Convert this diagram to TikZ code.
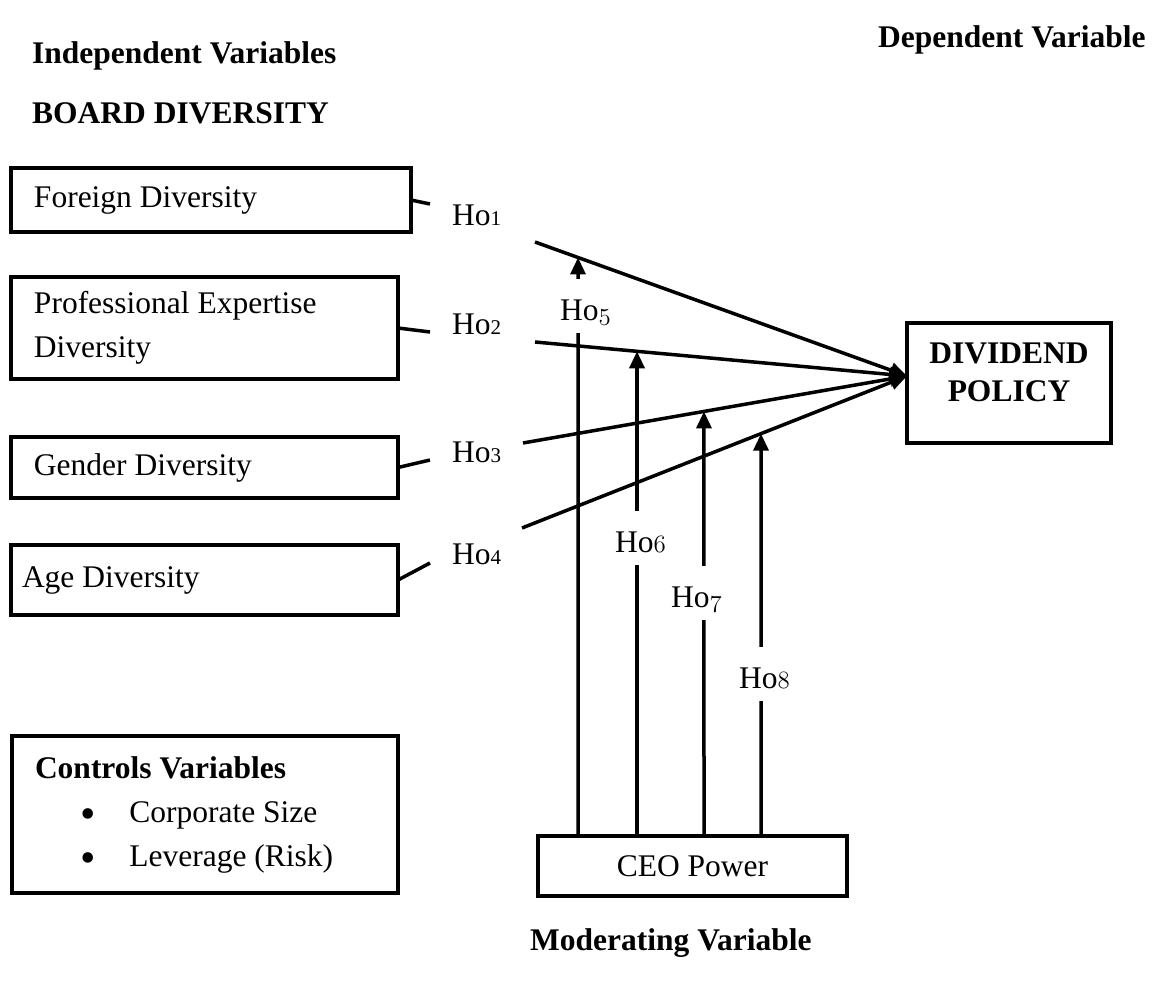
\documentclass[tikz,border=0pt]{standalone}
\usepackage{fontspec}
\setmainfont{Liberation Serif}
\usetikzlibrary{arrows.meta}
\newcommand\hnum[1]{{\fontsize{21}{21}\selectfont #1}}
\newcommand\onum[1]{{\fontsize{27}{27}\usefont{OML}{lmm}{m}{it}#1}}
\newcommand\bul{{\fontsize{44}{0}\selectfont\raisebox{-6pt}{\textbullet}}}
\tikzset{
	varbox/.style={draw, line width=3.5pt, anchor=north west, outer sep=0pt, align=flush left, inner ysep=0pt,
		execute at begin node={\spaceskip=0pt\xspaceskip=0pt}},
	title/.style={font=\fontsize{31.5}{38}\selectfont\bfseries, anchor=base west, inner sep=0pt},
	hlab/.style={anchor=base west, inner sep=0pt},
	mlab/.style={anchor=base west, fill=white, inner xsep=2pt, inner ysep=0pt, text height=41pt, text depth=13pt},
	link/.style={line width=3.5pt},
	effect/.style={line width=3.5pt, -{Triangle[length=17pt,width=15pt]}}
}
\begin{document}
\begin{tikzpicture}[x=1pt, y=-1pt, font=\fontsize{31.5}{44}\selectfont]
			%%%%% START %%%%%
			\useasboundingbox (0,0) rectangle (1163,988);
			
			\node[title] (indep) at (32,63) {Independent Variables};
			\node[title] (board) at (32,123) {BOARD DIVERSITY};
			\node[title] (dep) at (878,47) {Dependent Variable};
			\node[title] (moder) at (530,950) {Moderating Variable};
			
			\node[varbox, text width=354pt, inner xsep=23pt, minimum height=64pt] (fd) at (11,168) {Foreign Diversity};
			\node[varbox, text width=341pt, inner xsep=23pt, minimum height=102pt] (pe) at (11,277) {Professional Expertise\\Diversity};
			\node[varbox, text width=341pt, inner xsep=23pt, minimum height=61pt] (gd) at (11,437) {Gender Diversity};
			\node[varbox, text width=365pt, inner xsep=11pt, minimum height=70pt] (ad) at (11,545) {Age Diversity};
			
			\node[varbox, text width=340pt, inner xsep=23pt, minimum height=157pt] (ctrl) at (12,736) {\textbf{Controls Variables}\\\hspace*{45pt}\bul\hspace*{34pt}Corporate Size\\\hspace*{45pt}\bul\hspace*{34pt}Leverage (Risk)};
			
			\node[varbox, minimum width=309pt, minimum height=60pt, align=center] (ceo) at (538,836) {CEO Power};
			\node[varbox, minimum width=204pt, minimum height=120pt] (dp) at (907,323) {};
			\node[title, anchor=north, align=center] (dptext) at (1009,343) {DIVIDEND\\POLICY};
			\coordinate (dpin) at ([yshift=7pt]dp.west);
			
			\node[hlab] (h1) at (452,225) {Ho\hnum{1}};
			\node[hlab] (h2) at (452,334) {Ho\hnum{2}};
			\node[hlab] (h3) at (452,462) {Ho\hnum{3}};
			\node[hlab] (h4) at (452,564) {Ho\hnum{4}};
			
			\coordinate (s1) at (430,204);
			\coordinate (s2) at (430,332);
			\coordinate (s3) at (430,460);
			\coordinate (s4) at (430,563);
			\coordinate (e1) at (535,242);
			\coordinate (e2) at (535,342);
			\coordinate (e3) at (523,443);
			\coordinate (e4) at (522,528);
			
			\draw[link] (fd.east) -- (s1);
			\draw[link] (pe.east) -- (s2);
			\draw[link] (gd.east) -- (s3);
			\draw[link] (ad.east) -- (s4);
			
			\draw[effect] (e1) -- (dpin);
			\draw[effect] (e2) -- (dpin);
			\draw[effect] (e3) -- (dpin);
			\draw[effect] (e4) -- (dpin);
			
			\coordinate (t5) at (578,0);
			\coordinate (t6) at (637,0);
			\coordinate (t7) at (704,0);
			\coordinate (t8) at (761,0);
			\coordinate (b5) at (ceo.north -| t5);
			\coordinate (b6) at (ceo.north -| t6);
			\coordinate (b7) at (ceo.north -| t7);
			\coordinate (b8) at (ceo.north -| t8);
			
			\draw[effect] (b5) -- (intersection of e1--dpin and b5--t5);
			\draw[effect] (b6) -- (intersection of e2--dpin and b6--t6);
			\draw[effect] (b7) -- (intersection of e3--dpin and b7--t7);
			\draw[effect] (b8) -- (intersection of e4--dpin and b8--t8);
			
			\node[mlab] (h5) at (558,320) {Ho\onum{5}};
			\node[mlab] (h6) at (613,552) {Ho\onum{6}};
			\node[mlab] (h7) at (669,607) {Ho\onum{7}};
			\node[mlab] (h8) at (737,688) {Ho\onum{8}};
			%%%%% END %%%%%
\end{tikzpicture}
\end{document}
